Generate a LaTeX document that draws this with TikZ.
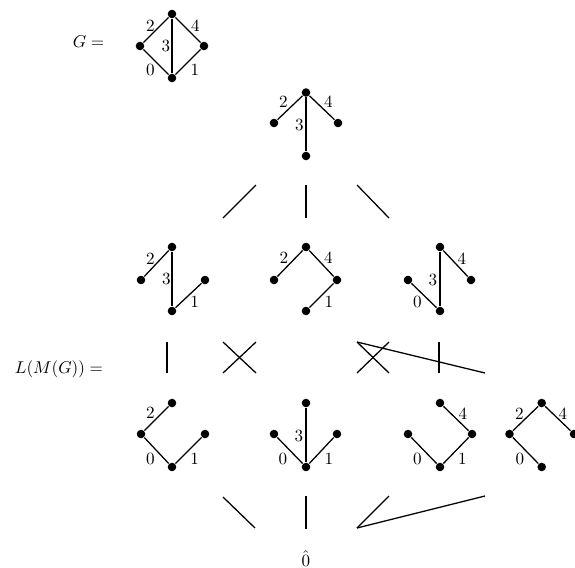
\documentclass[tikz,border=0pt]{standalone}
\begin{document}
\begin{tikzpicture}[x=0.5848pt,y=-0.5848pt,line width=0.75pt,
  v/.style={circle,fill=black,inner sep=0pt,minimum size=5pt},
  lab/.style={inner sep=0pt},
  edge/.style={draw=black,line width=0.75pt}]
\useasboundingbox (0,0) rectangle (575,567);
% G
\node[lab] (Gtext) at (88.5,42) {$G=$};
\node[v] (gt) at (172,14) {};
\node[v] (gl) at (140,46) {};
\node[v] (gr) at (204,46) {};
\node[v] (gb) at (172,78) {};
\draw[edge] (gl) -- (gt); \draw[edge] (gt) -- (gr); \draw[edge] (gt) -- (gb);
\draw[edge] (gl) -- (gb); \draw[edge] (gb) -- (gr);
\node[lab] (g2) at (150.5,26) {2};
\node[lab] (g4) at (195.5,26) {4};
\node[lab] (g3) at (166,46) {3};
\node[lab] (g0) at (150.5,69.5) {0};
\node[lab] (g1) at (195,70) {1};
% top element
\node[v] (at) at (306,92.5) {};
\node[v] (al) at (274,123) {};
\node[v] (ar) at (338,123) {};
\node[v] (ab) at (306,156) {};
\draw[edge] (al) -- (at); \draw[edge] (at) -- (ar); \draw[edge] (at) -- (ab);
\node[lab] (a2) at (283.5,102) {2};
\node[lab] (a4) at (328.5,102) {4};
\node[lab] (a3) at (299.5,124.5) {3};
% top segments
\coordinate (s1a) at (223,218); \coordinate (s1b) at (256,185);
\coordinate (s2a) at (306,185); \coordinate (s2b) at (306,218);
\coordinate (s3a) at (357,185); \coordinate (s3b) at (389,218);
\draw[edge] (s1a) -- (s1b); \draw[edge] (s2a) -- (s2b); \draw[edge] (s3a) -- (s3b);
% middle row
\node[v] (bt) at (172,247) {};
\node[v] (bl) at (141,280) {};
\node[v] (br) at (205,280) {};
\node[v] (bb) at (172,311) {};
\draw[edge] (bl) -- (bt); \draw[edge] (bt) -- (bb); \draw[edge] (bb) -- (br);
\node[lab] (b2) at (150.5,259) {2};
\node[lab] (b3) at (166.5,279) {3};
\node[lab] (b1) at (194.7,301.5) {1};
\node[v] (ct) at (306,247) {};
\node[v] (cl) at (274,280) {};
\node[v] (cr) at (337,280) {};
\node[v] (cb) at (306,311) {};
\draw[edge] (cl) -- (ct); \draw[edge] (ct) -- (cr); \draw[edge] (cb) -- (cr);
\node[lab] (c2) at (284,258) {2};
\node[lab] (c4) at (328.3,258) {4};
\node[lab] (c1) at (328.8,301.5) {1};
\node[v] (dt) at (440,247) {};
\node[v] (dl) at (408,280) {};
\node[v] (dr) at (471,280) {};
\node[v] (db) at (440,311) {};
\draw[edge] (dl) -- (db); \draw[edge] (dt) -- (db); \draw[edge] (dt) -- (dr);
\node[lab] (d4) at (462,259) {4};
\node[lab] (d3) at (433,279.5) {3};
\node[lab] (d0) at (417.5,302) {0};
% label L(M(G))
\node[lab] (Ltext) at (59,369) {$L(M(G))=$};
% middle segments
\coordinate (m1a) at (167,342); \coordinate (m1b) at (167,373);
\coordinate (m2a) at (223,342); \coordinate (m2b) at (256,373);
\coordinate (m3a) at (223,373); \coordinate (m3b) at (256,342);
\coordinate (m4a) at (357,342); \coordinate (m4b) at (389,373);
\coordinate (m5a) at (357,373); \coordinate (m5b) at (389,342);
\coordinate (m6b) at (485,373);
\coordinate (m7a) at (439,342); \coordinate (m7b) at (439,373);
\draw[edge] (m1a) -- (m1b); \draw[edge] (m2a) -- (m2b); \draw[edge] (m3a) -- (m3b);
\draw[edge] (m4a) -- (m4b); \draw[edge] (m5a) -- (m5b); \draw[edge] (m4a) -- (m6b);
\draw[edge] (m7a) -- (m7b);
% bottom row
\node[v] (et) at (172,403) {};
\node[v] (el) at (141,434) {};
\node[v] (er) at (205,434) {};
\node[v] (eb) at (172,467) {};
\draw[edge] (el) -- (et); \draw[edge] (el) -- (eb); \draw[edge] (eb) -- (er);
\node[lab] (e2) at (150.5,413) {2};
\node[lab] (e0) at (150.5,459) {0};
\node[lab] (e1) at (194.7,459) {1};
\node[v] (ft) at (306,403) {};
\node[v] (fl) at (274,434) {};
\node[v] (fr) at (337,434) {};
\node[v] (fb) at (306,467) {};
\draw[edge] (ft) -- (fb); \draw[edge] (fl) -- (fb); \draw[edge] (fb) -- (fr);
\node[lab] (f3) at (299,435.5) {3};
\node[lab] (f0) at (283,459) {0};
\node[lab] (f1) at (329,459) {1};
\node[v] (ht) at (440,403) {};
\node[v] (hl) at (408,434) {};
\node[v] (hr) at (472,434) {};
\node[v] (hb) at (440,467) {};
\draw[edge] (ht) -- (hr); \draw[edge] (hl) -- (hb); \draw[edge] (hb) -- (hr);
\node[lab] (h4) at (462.8,414) {4};
\node[lab] (h0) at (417.5,459) {0};
\node[lab] (h1) at (462.5,459) {1};
\node[v] (kt) at (541.7,403) {};
\node[v] (kl) at (509.5,434) {};
\node[v] (kr) at (574,434) {};
\node[v] (kb) at (541.7,467) {};
\draw[edge] (kl) -- (kt); \draw[edge] (kt) -- (kr); \draw[edge] (kl) -- (kb);
\node[lab] (k2) at (519.5,414) {2};
\node[lab] (k4) at (562.8,414) {4};
\node[lab] (k0) at (520,459) {0};
% bottom segments
\coordinate (n1a) at (223,497); \coordinate (n1b) at (255,528);
\coordinate (n2a) at (306,496); \coordinate (n2b) at (306,529);
\coordinate (n3a) at (389,496); \coordinate (n3b) at (357,528);
\coordinate (n4b) at (485,496);
\draw[edge] (n1a) -- (n1b); \draw[edge] (n2a) -- (n2b); \draw[edge] (n3a) -- (n3b);
\draw[edge] (n3b) -- (n4b);
% bottom element
\node[lab,anchor=base] (zero) at (306,566) {$\hat 0$};
\end{tikzpicture}
\end{document}
